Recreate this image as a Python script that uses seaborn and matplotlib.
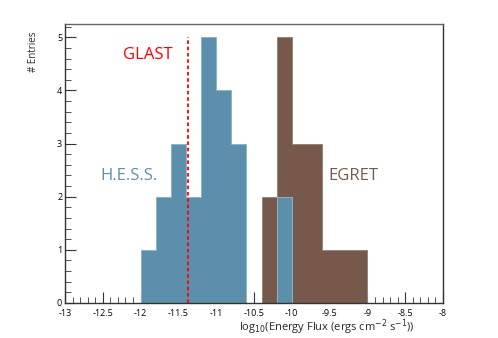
from matplotlib import pyplot as plt
from matplotlib.ticker import MultipleLocator, FuncFormatter
import seaborn as sns

# bin centres (width 0.2) and entries per bin
hess_bins = [-11.9, -11.7, -11.5, -11.3, -11.1, -10.9, -10.7, -10.1]
hess_counts = [1, 2, 3, 2, 5, 4, 3, 2]
egret_bins = [-10.3, -10.1, -9.9, -9.7, -9.5, -9.3, -9.1]
egret_counts = [2, 5, 3, 3, 1, 1, 1]
glast_x = -11.37
glast_top = 5

hess_color = "#5b8fab"
egret_color = "#77594c"

sns.set_style("white")
plt.rcParams["font.family"] = ["Open Sans", "DejaVu Sans"]
plt.rcParams["axes.unicode_minus"] = False

fig = plt.figure(figsize=(4.98, 3.38), dpi=100)
ax = fig.add_axes([65 / 498, 35 / 338, 378 / 498, 279 / 338])

sns.histplot(x=egret_bins, weights=egret_counts, binwidth=0.2, binrange=(-13, -8),
             element="step", color=egret_color, alpha=1, edgecolor="#9a847a",
             linewidth=0.7, ax=ax)
sns.histplot(x=hess_bins, weights=hess_counts, binwidth=0.2, binrange=(-13, -8),
             element="step", color=hess_color, alpha=1, edgecolor="#8fb3c6",
             linewidth=0.7, ax=ax)

ax.plot([glast_x, glast_x], [0, glast_top], color="red", linestyle=(0, (2, 1.5)), linewidth=1.3)

ax.text(-11.90, 4.66, "GLAST", color="red", fontsize=12, ha="center", va="center")
ax.text(-12.15, 2.39, "H.E.S.S.", color=hess_color, fontsize=12, ha="center", va="center")
ax.text(-9.18, 2.39, "EGRET", color=egret_color, fontsize=12, ha="center", va="center")

ax.set_xlim(-13, -8)
ax.set_ylim(0, 5.25)

ax.xaxis.set_major_locator(MultipleLocator(0.5))
ax.xaxis.set_minor_locator(MultipleLocator(0.1))
ax.yaxis.set_major_locator(MultipleLocator(1))
ax.yaxis.set_minor_locator(MultipleLocator(0.2))
ax.xaxis.set_major_formatter(FuncFormatter(lambda v, p: "%g" % v))
ax.yaxis.set_major_formatter(FuncFormatter(lambda v, p: "%g" % v))

ax.tick_params(which="both", direction="in", top=False, right=False, bottom=True, left=True,
               labelsize=6.5, colors="#333333", pad=2)
ax.tick_params(axis="x", which="major", pad=4)
ax.tick_params(which="major", length=8, width=0.8)
ax.tick_params(which="minor", length=4, width=0.6)
for lab in ax.get_xticklabels() + ax.get_yticklabels():
    lab.set_color("black")

for s in ax.spines.values():
    s.set_visible(True)
    s.set_color("#333333")
    s.set_linewidth(1)
ax.spines["top"].set_color("#666666")

ax.set_xlabel("")
ax.set_ylabel("")
fig.text(415 / 498, 1 - 327 / 338, r"log$_{10}$(Energy Flux (ergs cm$^{-2}$ s$^{-1}$))",
         ha="right", va="center", fontsize=8)
fig.text(33 / 498, 1 - 32 / 338, "# Entries", rotation=90, ha="center", va="top", fontsize=7)

plt.savefig("out.png", dpi=100)
plt.close(fig)
